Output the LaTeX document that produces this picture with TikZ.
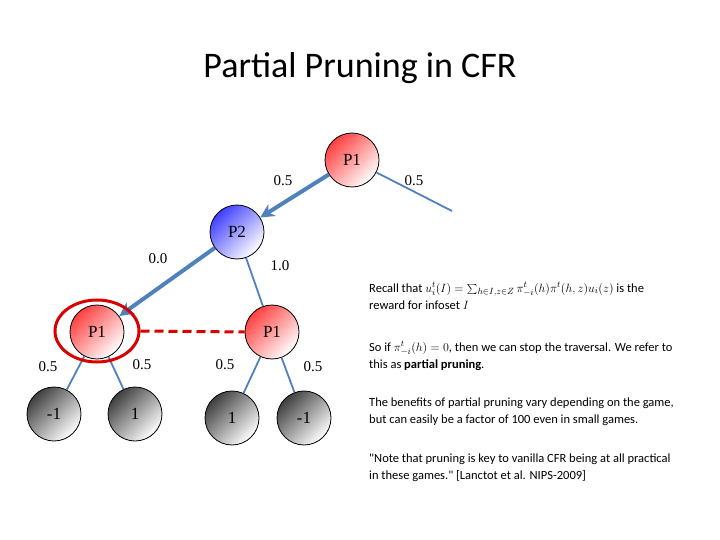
\documentclass[tikz,border=0pt]{standalone}
\usepackage{fontspec}
\setmainfont{Liberation Serif}
\newfontfamily\carlfont{Carlito}
\usetikzlibrary{arrows.meta,shapes.geometric}
\definecolor{edgeblue}{RGB}{79,129,189}
\tikzset{
 tn/.style={circle,draw=black,thick,minimum size=54pt,inner sep=0pt,font=\fontsize{17}{17}\selectfont},
 pone/.style={tn,top color=red!75,bottom color=white,shading angle=45},
 ptwo/.style={tn,top color=blue!75,bottom color=white,shading angle=45},
 leaf/.style={tn,top color=black!75,bottom color=white,shading angle=45},
 thin edge/.style={edgeblue,line width=1.8pt},
 thick edge/.style={edgeblue,line width=4pt,-{Stealth[length=14pt,width=14pt]}},
 lab/.style={font=\fontsize{15}{15}\selectfont},
 txt/.style={anchor=north west,align=left,font=\carlfont\fontsize{12.5}{17}\selectfont,inner sep=0pt}
}
\begin{document}
\begin{tikzpicture}[x=1pt,y=-1pt]
\useasboundingbox (0,0) rectangle (720,540);
\node[font=\carlfont\fontsize{36}{36}\selectfont] (title) at (360,68) {Partial Pruning in CFR};
\node[pone] (r) at (352,160) {P1};
\node[ptwo] (p2) at (237,232) {P2};
\node[pone] (a) at (97,332) {P1};
\node[pone] (b) at (272,332) {P1};
\node[leaf] (l1) at (54,414) {-1};
\node[leaf] (l2) at (135,414) {1};
\node[leaf] (l3) at (232,418) {1};
\node[leaf] (l4) at (304,418) {-1};
\coordinate (re) at (452,211);
\draw[thick edge] (r) -- (p2);
\draw[thin edge] (r) -- (re);
\draw[thick edge] (p2) -- (a);
\draw[thin edge] (p2) -- (b);
\draw[thin edge] (a) -- (l1);
\draw[thin edge] (a) -- (l2);
\draw[thin edge] (b) -- (l3);
\draw[thin edge] (b) -- (l4);
\node[draw=red!85!black,line width=3pt,ellipse,minimum width=84pt,minimum height=62pt] (ring) at (97,331) {};
\draw[red!85!black,line width=3pt,dash pattern=on 9pt off 5pt] (ring.east) -- (b.west);
\node[lab] (e1) at (283,181) {0.5};
\node[lab] (e2) at (414,181) {0.5};
\node[lab] (e3) at (158,259) {0.0};
\node[lab] (e4) at (280,266) {1.0};
\node[lab] (e5) at (48,367) {0.5};
\node[lab] (e6) at (142,365) {0.5};
\node[lab] (e7) at (225,365) {0.5};
\node[lab] (e8) at (313,367) {0.5};
\node[txt] (t1) at (369,282) {Recall that $u_i^t(I)=\sum_{h\in I,z\in Z}\pi_{-i}^t(h)\pi^t(h,z)u_i(z)$ is the\\reward for infoset $I$};
\node[txt] (t2) at (369,341) {So if $\pi_{-i}^t(h)=0$, then we can stop the traversal. We refer to\\this as \textbf{partial pruning}.};
\node[txt] (t3) at (369,398) {The benefits of partial pruning vary depending on the game,\\but can easily be a factor of 100 even in small games.};
\node[txt] (t4) at (369,454) {"Note that pruning is key to vanilla CFR being at all practical\\in these games." [Lanctot et al. NIPS-2009]};
\end{tikzpicture}
\end{document}
